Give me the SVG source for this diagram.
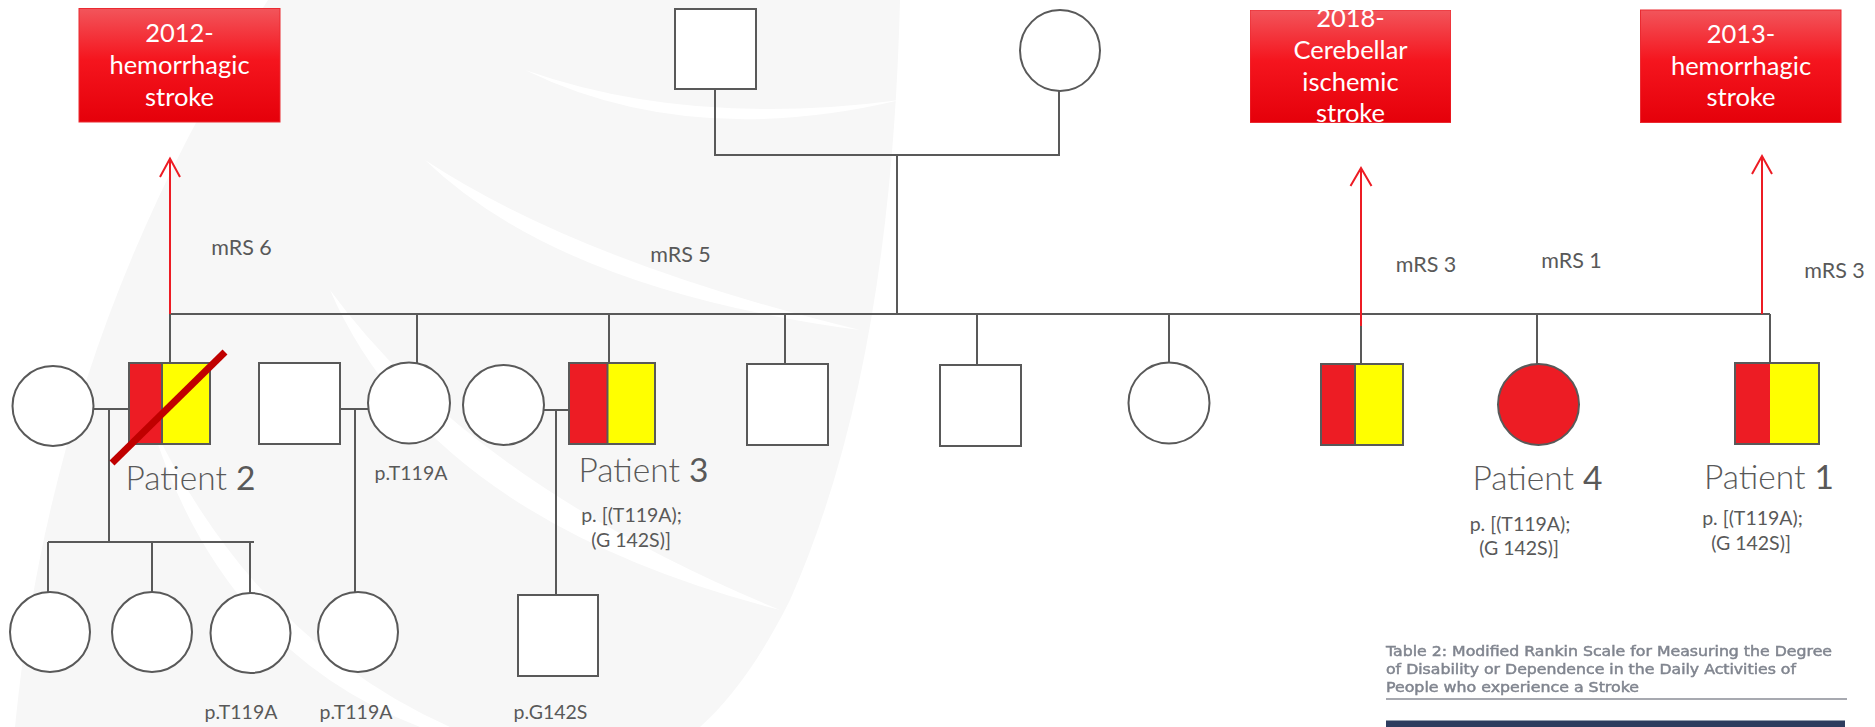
<svg xmlns="http://www.w3.org/2000/svg" width="1875" height="727" viewBox="0 0 1875 727">
  <defs>
    <linearGradient id="eventFill" x1="0" y1="0" x2="0" y2="1">
      <stop offset="0" stop-color="#f2555b"/>
      <stop offset="0.45" stop-color="#f5151e"/>
      <stop offset="1" stop-color="#e5000a"/>
    </linearGradient>
    <filter id="soft" x="-2%" y="-20%" width="104%" height="140%">
      <feGaussianBlur stdDeviation="0.6"/>
    </filter>
    <style>
      .ln { fill: none; stroke: #595959; stroke-width: 2; }
      .sym { fill: #ffffff; stroke: #595959; stroke-width: 2; }
      .outline { fill: none; stroke: #595959; stroke-width: 2; }
      .aff { fill: #ed1c24; }
      .var { fill: #ffff00; }
      .arrow { fill: none; stroke: #ed1c24; stroke-width: 2; }
      .event { fill: url(#eventFill); stroke: #ea2a31; stroke-width: 1; }
      .event-t { font-family: Lato, "Open Sans", sans-serif; font-size: 25.5px; fill: #ffffff; text-anchor: middle; }
      .label { font-family: Lato, "Open Sans", sans-serif; fill: #595959; text-anchor: middle; }
      .pat { font-size: 33.5px; font-weight: 300; }
      .num { font-weight: 400; }
      .geno { font-size: 19.5px; }
      .mrs { font-size: 21.5px; }
      .caption { font-family: "DejaVu Sans", Verdana, sans-serif; font-size: 14.5px; fill: #80858f; stroke: #80858f; stroke-width: 0.5; }
    </style>
  </defs>

  <rect width="1875" height="727" fill="#ffffff"/>

  <!-- faint background logo -->
  <g id="watermark">
    <path d="M268,0 L900,0 C895,200 870,420 790,600 C760,660 730,700 700,727 L15,727 C40,470 120,230 268,0 Z" fill="#f7f7f7"/>
    <path d="M525,70 Q690,150 900,100 Q690,128 525,70 Z" fill="#ffffff"/>
    <path d="M425,160 Q560,290 860,330 Q580,262 425,160 Z" fill="#ffffff"/>
    <path d="M330,290 Q430,520 780,610 Q470,482 330,290 Z" fill="#ffffff"/>
    <path d="M150,420 Q220,650 420,727 L450,727 Q255,640 150,420 Z" fill="#ffffff"/>
  </g>

  <!-- stroke event boxes -->
  <g id="event-2012">
    <rect class="event" x="79" y="8.5" width="201" height="113.5"/>
    <text class="event-t" x="179.5" y="42">2012-</text>
    <text class="event-t" x="179.5" y="74">hemorrhagic</text>
    <text class="event-t" x="179.5" y="106">stroke</text>
  </g>
  <g id="event-2018">
    <svg x="1250" y="10" width="201" height="113" overflow="hidden">
      <rect class="event" x="0" y="0" width="201" height="112.5"/>
      <text class="event-t" x="100.5" y="17">2018-</text>
      <text class="event-t" x="100.5" y="49">Cerebellar</text>
      <text class="event-t" x="100.5" y="81">ischemic</text>
      <text class="event-t" x="100.5" y="112">stroke</text>
    </svg>
  </g>
  <g id="event-2013">
    <rect class="event" x="1640.5" y="10" width="200.5" height="112.5"/>
    <text class="event-t" x="1741" y="43">2013-</text>
    <text class="event-t" x="1741" y="74.5">hemorrhagic</text>
    <text class="event-t" x="1741" y="106">stroke</text>
  </g>

  <!-- pedigree lines -->
  <g id="connectors">
    <path class="ln" d="M715,89 V155 H1059 V91"/>
    <path class="ln" d="M897,155 V314"/>
    <path class="ln" d="M170,314 H1770"/>
    <path class="ln" d="M170,314 V363 M417,314 V363 M609,314 V363 M785,314 V364 M977,314 V365 M1169,314 V363 M1361,314 V364 M1537,314 V364 M1770,314 V378"/>
    <path class="ln" d="M94,409 H129 M109,409 V542 M48,542 H254 M48,542 V592 M152,542 V592 M250,542 V593"/>
    <path class="ln" d="M340,409 H368 M355,409 V592"/>
    <path class="ln" d="M544,410 H569 M556,410 V595"/>
    <!-- stroke events -->
    <path class="arrow" d="M170,314 V159 M160,177 L170,158.5 L180,177"/>
    <path class="arrow" d="M1361,326 V168 M1350.5,186 L1361,168 L1371.5,186"/>
    <path class="arrow" d="M1762,314 V156 M1752,174 L1762,156 L1772,174"/>
  </g>

  <!-- generation I -->
  <g id="grandfather"><rect class="sym" x="675" y="9" width="81" height="80"/></g>
  <g id="grandmother"><ellipse class="sym" cx="1060" cy="50.5" rx="40" ry="40.5"/></g>

  <!-- generation II -->
  <g id="wife-p2"><ellipse class="sym" cx="53" cy="406" rx="40.5" ry="40"/></g>
  <g id="patient-2">
    <rect class="aff" x="129" y="363" width="33" height="81"/>
    <rect class="var" x="162" y="363" width="48" height="81"/>
    <path class="ln" d="M162,363 V444" stroke-width="1.5"/>
    <rect class="outline" x="129" y="363" width="81" height="81"/>
    <line x1="112" y1="463" x2="225" y2="352" stroke="#c00000" stroke-width="7"/>
    <text class="label pat" x="190.5" y="490">Patient <tspan class="num">2</tspan></text>
  </g>
  <g id="husband-sister"><rect class="sym" x="259" y="363" width="81" height="81"/></g>
  <g id="sister-1">
    <ellipse class="sym" cx="409" cy="403" rx="41" ry="40.5"/>
    <text class="label geno" x="411" y="480">p.T119A</text>
  </g>
  <g id="wife-p3"><ellipse class="sym" cx="503.5" cy="405" rx="40.5" ry="40"/></g>
  <g id="patient-3">
    <rect class="aff" x="569" y="363" width="38.5" height="81"/>
    <rect class="var" x="607.5" y="363" width="47.5" height="81"/>
    <path class="ln" d="M607.5,363 V444" stroke-width="1.5"/>
    <rect class="outline" x="569" y="363" width="86" height="81"/>
    <text class="label pat" x="643.5" y="482">Patient <tspan class="num">3</tspan></text>
    <text class="label geno" x="631.5" y="522">p. [(T119A);</text>
    <text class="label geno" x="631" y="547">(G 142S)]</text>
  </g>
  <g id="brother-1"><rect class="sym" x="747" y="364" width="81" height="81"/></g>
  <g id="brother-2"><rect class="sym" x="940" y="365" width="81" height="81"/></g>
  <g id="sister-2"><ellipse class="sym" cx="1169" cy="403" rx="40.5" ry="40.5"/></g>
  <g id="brother-3">
    <rect class="aff" x="1321" y="364" width="34" height="81"/>
    <rect class="var" x="1355" y="364" width="48" height="81"/>
    <path class="ln" d="M1355,364 V445" stroke-width="1.5"/>
    <rect class="outline" x="1321" y="364" width="82" height="81"/>
  </g>
  <g id="patient-4">
    <ellipse cx="1538.5" cy="404.5" rx="40.5" ry="40.5" fill="#ed1c24" stroke="#595959" stroke-width="2"/>
    <text class="label pat" x="1537.5" y="490">Patient <tspan class="num">4</tspan></text>
    <text class="label geno" x="1520" y="531">p. [(T119A);</text>
    <text class="label geno" x="1519" y="555">(G 142S)]</text>
  </g>
  <g id="patient-1">
    <rect class="aff" x="1735" y="363" width="35" height="81"/>
    <rect class="var" x="1770" y="363" width="49" height="81"/>
    <rect class="outline" x="1735" y="363" width="84" height="81"/>
    <text class="label pat" x="1769" y="489">Patient <tspan class="num">1</tspan></text>
    <text class="label geno" x="1752.5" y="525">p. [(T119A);</text>
    <text class="label geno" x="1751" y="550">(G 142S)]</text>
  </g>

  <!-- generation III -->
  <g id="child-1"><ellipse class="sym" cx="50" cy="632" rx="40" ry="40"/></g>
  <g id="child-2"><ellipse class="sym" cx="152" cy="632" rx="40" ry="40"/></g>
  <g id="child-3">
    <ellipse class="sym" cx="250.5" cy="633" rx="40" ry="40"/>
    <text class="label geno" x="241" y="719">p.T119A</text>
  </g>
  <g id="niece">
    <ellipse class="sym" cx="358" cy="632" rx="40" ry="40"/>
    <text class="label geno" x="356" y="719">p.T119A</text>
  </g>
  <g id="nephew">
    <rect class="sym" x="518" y="595" width="80" height="81"/>
    <text class="label geno" x="550.5" y="719">p.G142S</text>
  </g>

  <!-- disability scores -->
  <g id="scores">
    <text class="label mrs" x="241.5" y="255">mRS 6</text>
    <text class="label mrs" x="680.5" y="262">mRS 5</text>
    <text class="label mrs" x="1426" y="272">mRS 3</text>
    <text class="label mrs" x="1571.5" y="268">mRS 1</text>
    <text class="label mrs" x="1834.5" y="278">mRS 3</text>
  </g>

  <!-- Rankin scale table header -->
  <g id="rankin-table" filter="url(#soft)">
    <text class="caption" x="1386" y="656" textLength="446" lengthAdjust="spacingAndGlyphs">Table 2: Modified Rankin Scale for Measuring the Degree</text>
    <text class="caption" x="1386" y="674" textLength="410" lengthAdjust="spacingAndGlyphs">of Disability or Dependence in the Daily Activities of</text>
    <text class="caption" x="1386" y="692" textLength="253" lengthAdjust="spacingAndGlyphs">People who experience a Stroke</text>
    <line x1="1386" y1="699" x2="1847" y2="699" stroke="#8a8d96" stroke-width="1.5"/>
    <rect x="1386" y="720.5" width="459" height="7" fill="#2f3d5f"/>
  </g>
</svg>
